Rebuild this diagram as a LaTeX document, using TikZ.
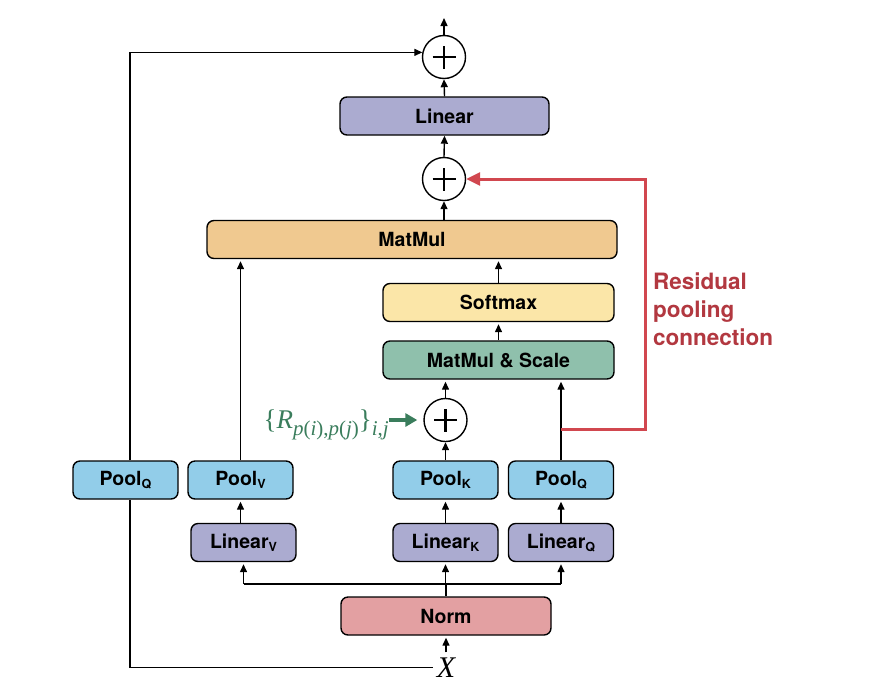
\documentclass[tikz,border=0pt]{standalone}
\usepackage{fontspec}
\newfontfamily\hv{TeX Gyre Heros}
\newfontfamily\tms{Liberation Serif}
\usetikzlibrary{arrows.meta,calc}
\definecolor{linC}{RGB}{171,171,208}
\definecolor{mmC}{RGB}{240,201,144}
\definecolor{smC}{RGB}{251,230,168}
\definecolor{msC}{RGB}{143,192,172}
\definecolor{poolC}{RGB}{146,205,233}
\definecolor{normC}{RGB}{227,160,162}
\definecolor{resC}{RGB}{209,71,79}
\definecolor{restxt}{RGB}{178,56,64}
\definecolor{grnC}{RGB}{58,125,92}
\newcommand\sbs[1]{\raisebox{-3pt}{\fontsize{12.5}{12.5}\selectfont #1}}
\newcommand\msub[1]{\raisebox{-7pt}{\fontsize{21}{21}\selectfont #1}}
\begin{document}
\begin{tikzpicture}[x=1pt,y=-1pt,
  box/.style={draw=black, line width=1.4pt, rounded corners=7pt, minimum height=38pt,
    inner sep=0pt, font=\hv\bfseries\fontsize{19.5}{22}\selectfont},
  small/.style={box, minimum width=105pt},
  plus/.style={draw=black, circle, line width=1.4pt, minimum size=43pt, inner sep=0pt,
    path picture={\draw[line width=2.4pt]
      ([xshift=-11.5pt]path picture bounding box.center) -- ([xshift=11.5pt]path picture bounding box.center)
      ([yshift=-11.5pt]path picture bounding box.center) -- ([yshift=11.5pt]path picture bounding box.center);}},
  ln/.style={draw=black, line width=1.4pt},
  arr/.style={ln, -{Triangle[length=8pt,width=7pt]}},
  arrb/.style={arr, shorten >=2pt},
  redarr/.style={draw=resC, line width=3pt, -{Triangle[length=14pt,width=13pt]}},
  grnarr/.style={draw=grnC, line width=4pt, -{Triangle[length=12pt,width=13pt]}}
]
\useasboundingbox (0,0) rectangle (890,686);

% nodes
\node[plus] (plusTop) at (444,57) {};
\coordinate (out) at (444,18);
\node[box, fill=linC, minimum width=209pt] (linear) at (444.5,116) {Linear};
\node[plus] (plusMid) at (444,179) {};
\node[box, fill=mmC, minimum width=410pt] (matmul) at (412,239.5) {MatMul};
\node[box, fill=smC, minimum width=231pt] (softmax) at (498.5,302.5) {Softmax};
\node[box, fill=msC, minimum width=231pt] (mms) at (498.5,360) {MatMul \& Scale};
\node[plus] (plusR) at (445.5,420) {};
\node[small, fill=poolC] (poolQL) at (125.5,480) {Pool\sbs{Q}};
\node[small, fill=poolC] (poolV) at (240.5,480) {Pool\sbs{V}};
\node[small, fill=poolC] (poolK) at (445.5,480) {Pool\sbs{K}};
\node[small, fill=poolC] (poolQ) at (561,480) {Pool\sbs{Q}};
\node[small, fill=linC] (linV) at (243.5,542.5) {Linear\sbs{V}};
\node[small, fill=linC] (linK) at (445.5,542.5) {Linear\sbs{K}};
\node[small, fill=linC] (linQ) at (561,542.5) {Linear\sbs{Q}};
\node[box, fill=normC, minimum width=210pt] (norm) at (446,616) {Norm};
\node[inner sep=0pt, font=\tms\itshape\fontsize{30}{30}\selectfont] (X) at (446,667.5) {X};
\node[inner sep=0pt, anchor=base east, text=grnC, font=\tms\fontsize{27}{30}\selectfont] (rlabel) at (389,428)
  {\{\textit{R}\msub{\textit{p}(\textit{i}),\textit{p}(\textit{j})}\}\msub{\textit{i},\textit{j}}};
\node[anchor=north west, align=left, inner sep=0pt, text=restxt,
  font=\hv\bfseries\fontsize{22.5}{28}\selectfont] (restext) at (653,273)
  {Residual\\pooling\\connection};

\coordinate (bus) at (446,584);
\coordinate (rc) at (645,429);
\coordinate (qlb) at ($(poolQL.south)+(4.5,0)$);
\coordinate (qlt) at ($(poolQL.north)+(4.5,0)$);

% connectors
\draw[arr, shorten <=5pt, shorten >=2pt] (X.north) -- (norm.south);
\draw[ln] (norm.north) -- (norm.north |- bus);
\draw[ln] (linV.south |- bus) -- (linQ.south |- bus);
\draw[arrb] (linV.south |- bus) -- (linV.south);
\draw[arrb] (linK.south |- bus) -- (linK.south);
\draw[arrb] (linQ.south |- bus) -- (linQ.south);
\draw[arrb] (poolV.south |- linV.north) -- (poolV.south);
\draw[arrb] (linK.north) -- (poolK.south);
\draw[arrb] (linQ.north) -- (poolQ.south);
\draw[arrb] (poolV.north) -- (poolV.north |- matmul.south);
\draw[arr] (poolK.north) -- (plusR.south);
\draw[arrb] (plusR.north) -- (plusR.north |- mms.south);
\draw[arrb] (poolQ.north) -- (poolQ.north |- mms.south);
\draw[arrb] (mms.north) -- (softmax.south);
\draw[arrb] (softmax.north) -- (softmax.north |- matmul.south);
\draw[arr] (plusMid.south |- matmul.north) -- (plusMid.south);
\draw[arr] (plusMid.north) -- (linear.south);
\draw[arr] (linear.north) -- (plusTop.south);
\draw[arr] (plusTop.north) -- (out);
\draw[ln, shorten <=4pt] (X.west) -| (qlb);
\draw[arr] (qlt) |- (plusTop.168);
\draw[redarr] (poolQ.north |- rc) -- (rc) |- (plusMid.east);
\draw[grnarr, shorten >=6pt] (rlabel.east |- plusR.west) -- (plusR.west);
\end{tikzpicture}
\end{document}
